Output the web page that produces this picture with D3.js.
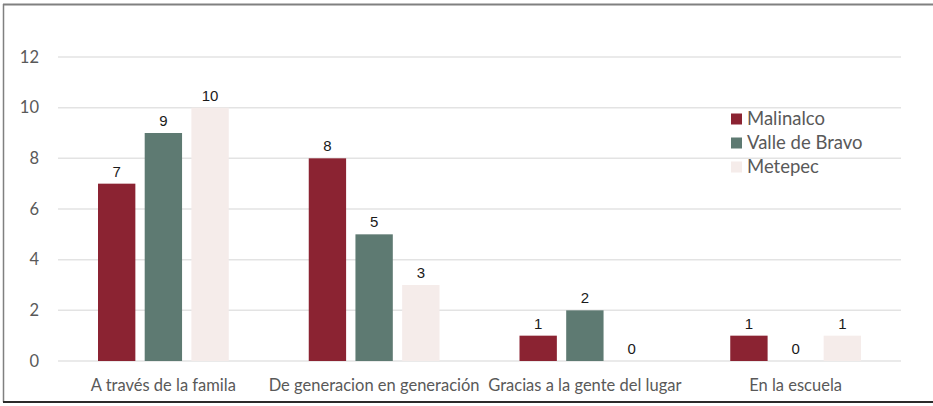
<!DOCTYPE html>
<html><head><meta charset="utf-8">
<script src="https://cdn.jsdelivr.net/npm/d3@7"></script>
<style>body{margin:0;background:#fff}svg{display:block}</style>
</head><body>
<script>
const categories = ["A través de la famila","De generacion en generación","Gracias a la gente del lugar","En la escuela"];
const seriesNames = ["Malinalco","Valle de Bravo","Metepec"];
const malinalco = [7,8,1,1];
const valleDeBravo = [9,5,2,0];
const metepec = [10,3,0,1];
const yTicks = [0,2,4,6,8,10,12];
const colors = ["#8B2332","#5E7A72","#F5ECEA"];

const W=933,H=406;
const svg=d3.select("body").append("svg").attr("width",W).attr("height",H);
svg.append("rect").attr("width",W).attr("height",H).attr("fill","#fff");
// frame
svg.append("line").attr("x1",3).attr("x2",W).attr("y1",4.5).attr("y2",4.5).attr("stroke","#808080").attr("stroke-width",2);
svg.append("line").attr("x1",3.5).attr("x2",3.5).attr("y1",4).attr("y2",402).attr("stroke","#808080").attr("stroke-width",1.5);
svg.append("line").attr("x1",3).attr("x2",W).attr("y1",402).attr("y2",402).attr("stroke","#2b2b2b").attr("stroke-width",2);

const mLeft=58,mRight=901,mTop=57,mBottom=361;
const y=d3.scaleLinear().domain([0,12]).range([mBottom,mTop]);
const x0=d3.scaleBand().domain(categories).range([mLeft,mRight]).padding(0);
const x1=d3.scaleBand().domain(seriesNames).range([40,x0.bandwidth()-40]).paddingInner(0.2);

// gridlines
svg.append("g").selectAll("line").data(yTicks).join("line")
  .attr("x1",mLeft).attr("x2",mRight).attr("y1",d=>y(d)).attr("y2",d=>y(d))
  .attr("stroke","#e3e3e3").attr("stroke-width",1.5);
// y labels
svg.append("g").selectAll("text").data(yTicks).join("text")
  .attr("x",39).attr("y",d=>y(d)).attr("dy","0.35em").attr("text-anchor","end")
  .attr("font-family","Lato, 'Open Sans', sans-serif").attr("font-size",16.5).attr("fill","#595959")
  .text(d=>d);

const data=[malinalco,valleDeBravo,metepec];
const g=svg.append("g");
categories.forEach((c,i)=>{
  seriesNames.forEach((s,j)=>{
    const v=data[j][i];
    const bx=x0(c)+x1(s);
    if(v>0){
      g.append("rect").attr("x",bx).attr("y",y(v)).attr("width",x1.bandwidth()).attr("height",y(0)-y(v))
       .attr("fill",colors[j]);
    }
    g.append("text").attr("x",bx+x1.bandwidth()/2).attr("y",y(v)-7)
     .attr("text-anchor","middle").attr("font-family","'Liberation Sans', Arial, sans-serif")
     .attr("font-size",15).attr("fill","#1a1a1a").text(v);
  });
});
// category labels
svg.append("g").selectAll("text").data(categories).join("text")
  .attr("x",d=>x0(d)+x0.bandwidth()/2).attr("y",385).attr("dy","0.35em").attr("text-anchor","middle")
  .attr("font-family","Lato, 'Open Sans', sans-serif").attr("font-size",16.5).attr("fill","#595959")
  .text(d=>d);
// legend
const lg=svg.append("g");
seriesNames.forEach((s,j)=>{
  const cy=119+j*24;
  lg.append("rect").attr("x",731).attr("y",cy-5.5).attr("width",11).attr("height",11).attr("fill",colors[j]);
  lg.append("text").attr("x",747).attr("y",cy).attr("dy","0.35em")
    .attr("font-family","Lato, 'Open Sans', sans-serif").attr("font-size",18.5).attr("fill","#595959").text(s);
});
</script>
</body></html>
